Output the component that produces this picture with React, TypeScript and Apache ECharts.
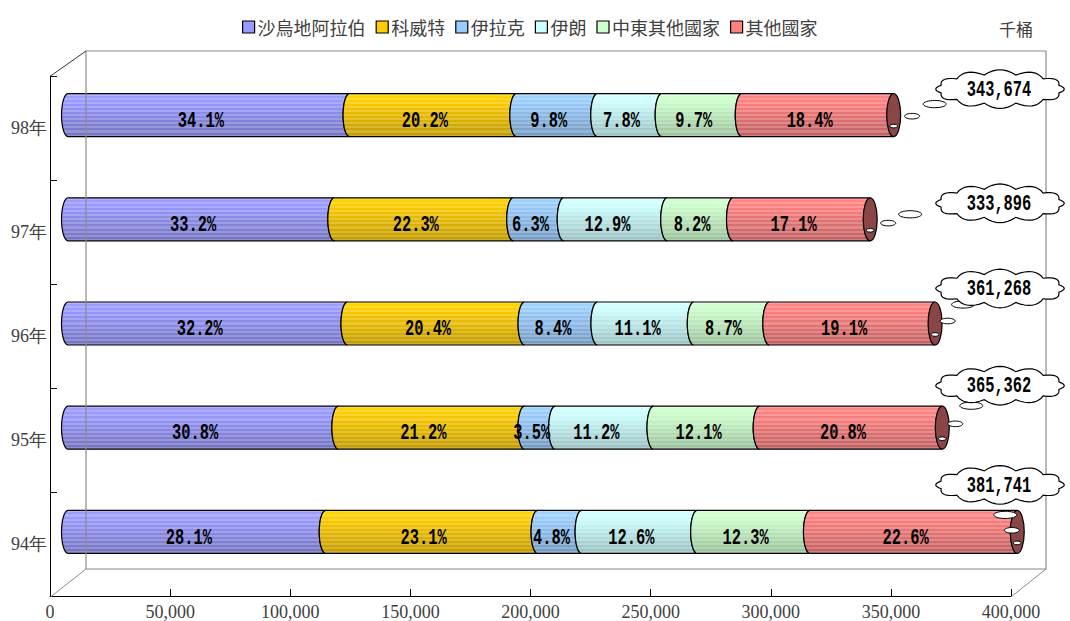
import React, { useEffect, useRef } from "react";
import * as echarts from "echarts";

// ---- data ----
const categories = ["94年", "95年", "96年", "97年", "98年"];
const seriesNames = ["沙烏地阿拉伯", "科威特", "伊拉克", "伊朗", "中東其他國家", "其他國家"];
const totals = [381741, 365362, 361268, 333896, 343674];
const pctSaudi = [28.1, 30.8, 32.2, 33.2, 34.1];
const pctKuwait = [23.1, 21.2, 20.4, 22.3, 20.2];
const pctIraq = [4.8, 3.5, 8.4, 6.3, 9.8];
const pctIran = [12.6, 11.2, 11.1, 12.9, 7.8];
const pctOtherME = [12.3, 12.1, 8.7, 8.2, 9.7];
const pctOther = [22.6, 20.8, 19.1, 17.1, 18.4];
const xMax = 400000;
const xInterval = 50000;

// ---- styling / layout (not data) ----
const colors = ["#9999FF", "#FFCC00", "#99CCFF", "#CCFFFF", "#CCFFCC", "#FF8080"];
const capColor = "#8A4646";
const cloudDy = [-47, -42, -35, -16, -26];
const bubbleDx = [-12, 29, 28, 40, 41];
const bubbleDy = [-17, -22, -19, -5, -11];
const valueFont = "'Liberation Mono', 'DejaVu Sans Mono', monospace";

const pctSets = [pctSaudi, pctKuwait, pctIraq, pctIran, pctOtherME, pctOther];

function hexToRgb(h: string) {
  const n = parseInt(h.slice(1), 16);
  return [(n >> 16) & 255, (n >> 8) & 255, n & 255];
}
function makeGrad(hex: string) {
  const [r, g, b] = hexToRgb(hex);
  const N = 21;
  const stops: any[] = [];
  for (let i = 0; i < N; i++) {
    const t = (i + 0.5) / N;
    const f = 1.05 - 0.3 * t;
    let c = [r * f, g * f, b * f];
    if (i % 2 === 0) c = c.map((v) => v + (255 - v) * 0.2);
    c = c.map((v) => Math.max(0, Math.min(255, Math.round(v))));
    const col = `rgb(${c[0]},${c[1]},${c[2]})`;
    stops.push({ offset: i / N, color: col });
    stops.push({ offset: (i + 1) / N, color: col });
  }
  return new echarts.graphic.LinearGradient(0, 0, 0, 1, stops);
}

function cloudPoints(cx: number, cy: number, rx: number, ry: number) {
  const nb = 12;
  const k = 1.7;
  const pts: number[][] = [];
  const off = Math.PI / nb;
  for (let i = 0; i < nb; i++) {
    const a0 = off + (2 * Math.PI * i) / nb;
    const a1 = off + (2 * Math.PI * (i + 1)) / nb;
    const am = (a0 + a1) / 2;
    const p0 = [cx + rx * Math.cos(a0), cy + ry * Math.sin(a0)];
    const p2 = [cx + rx * Math.cos(a1), cy + ry * Math.sin(a1)];
    const c = [cx + rx * 1.14 * Math.cos(am), cy + ry * k * Math.sin(am)];
    for (let s = 0; s < 8; s++) {
      const t = s / 8;
      const x = (1 - t) * (1 - t) * p0[0] + 2 * (1 - t) * t * c[0] + t * t * p2[0];
      const y = (1 - t) * (1 - t) * p0[1] + 2 * (1 - t) * t * c[1] + t * t * p2[1];
      pts.push([x, y]);
    }
  }
  return pts;
}

function valueText(x: number, y: number, text: string) {
  return {
    type: "text",
    x,
    y,
    scaleX: 0.7,
    z2: 20,
    style: {
      x: 0,
      y: 0,
      text,
      fill: "#000",
      fontSize: 22,
      fontWeight: "bold",
      fontFamily: valueFont,
      align: "center",
      verticalAlign: "middle",
    },
  };
}

export default function App() {
  const ref = useRef<HTMLDivElement>(null);
  useEffect(() => {
    document.body.style.margin = "0";
    const chart = echarts.init(ref.current!, null, { renderer: "svg" });
    const grads = colors.map(makeGrad);

    const segSeries = seriesNames.map((name, s) => {
      const data = categories.map((_, j) => {
        let start = 0;
        for (let q = 0; q < s; q++) start += (totals[j] * pctSets[q][j]) / 100;
        const end = start + (totals[j] * pctSets[s][j]) / 100;
        return [start, end, j, pctSets[s][j]];
      });
      return {
        type: "custom",
        name,
        xAxisIndex: 1,
        yAxisIndex: 1,
        itemStyle: { color: colors[s] },
        encode: { x: [0, 1], y: 2 },
        data,
        renderItem: (params: any, api: any) => {
          const j = api.value(2);
          const x0 = api.coord([api.value(0), j])[0];
          const p1 = api.coord([api.value(1), j]);
          const x1 = p1[0];
          const yc = p1[1];
          const ry = 21.5;
          const rx = 6.5;
          const pts: number[][] = [[x0, yc - ry], [x1, yc - ry]];
          for (let k = 0; k <= 16; k++) {
            const f = -Math.PI / 2 + (Math.PI * k) / 16;
            pts.push([x1 - rx * Math.cos(f), yc + ry * Math.sin(f)]);
          }
          for (let k = 0; k <= 16; k++) {
            const f = Math.PI / 2 - (Math.PI * k) / 16;
            pts.push([x0 - rx * Math.cos(f), yc + ry * Math.sin(f)]);
          }
          const children: any[] = [
            {
              type: "polygon",
              shape: { points: pts },
              style: { fill: grads[s], stroke: "#000", lineWidth: 1.2 },
              z2: s,
            },
          ];
          if (s === seriesNames.length - 1) {
            children.push({
              type: "ellipse",
              shape: { cx: x1, cy: yc, rx: 7, ry },
              style: { fill: capColor, stroke: "#000", lineWidth: 1.2 },
              z2: 10,
            });
          }
          children.push(valueText((x0 + x1) / 2 - 8, yc + 6, api.value(3).toFixed(1) + "%"));
          return { type: "group", children };
        },
      };
    });

    const cloudData = categories.map((_, j) => {
      let sum = 0;
      for (let q = 0; q < pctSets.length; q++) sum += pctSets[q][j];
      return [(totals[j] * sum) / 100, j, totals[j]];
    });

    const cloudSeries = {
      type: "custom",
      name: "總計",
      xAxisIndex: 1,
      yAxisIndex: 1,
      z: 10,
      encode: { x: 0, y: 1 },
      data: cloudData,
      renderItem: (params: any, api: any) => {
        const j = api.value(1);
        const pe = api.coord([api.value(0), j]);
        const xe = pe[0];
        const yc = pe[1];
        const cx = api.coord([xMax, j])[0] - 29;
        const cy = yc + cloudDy[j];
        const sx = xe;
        const sy = yc + 11;
        const ex = xe + bubbleDx[j];
        const ey = yc + bubbleDy[j];
        const mx = sx + (ex - sx) * 0.45;
        const my = sy + (ey - sy) * 0.45;
        return {
          type: "group",
          children: [
            { type: "ellipse", shape: { cx: sx, cy: sy, rx: 4, ry: 1.8 }, style: { fill: "#fff", stroke: "#000", lineWidth: 1 } },
            { type: "ellipse", shape: { cx: mx, cy: my, rx: 7.5, ry: 2.8 }, style: { fill: "#fff", stroke: "#000", lineWidth: 1 } },
            { type: "ellipse", shape: { cx: ex, cy: ey, rx: 11.5, ry: 3.6 }, style: { fill: "#fff", stroke: "#000", lineWidth: 1 } },
            {
              type: "polygon",
              shape: { points: cloudPoints(cx, cy, 61, 14.5) },
              style: { fill: "#fff", stroke: "#000", lineWidth: 1.2 },
            },
            valueText(cx - 1, cy + 1, api.value(2).toLocaleString("en-US")),
          ],
        };
      },
    };

    const serifLabel = { fontFamily: "'Liberation Serif', serif", fontSize: 18, color: "#404040" };

    chart.setOption({
      animation: false,
      legend: {
        data: seriesNames,
        top: 13,
        left: 237,
        itemWidth: 12,
        itemHeight: 12,
        itemGap: 10,
        icon: "rect",
        itemStyle: { borderColor: "#000", borderWidth: 1.2 },
        textStyle: { fontFamily: "'Noto Sans CJK TC', sans-serif", fontSize: 18, color: "#404040", padding: [0, 0, 0, -2] },
      },
      grid: [
        { left: 50, right: 59, top: 76, bottom: 24 },
        { left: 68, right: 41, top: 63, bottom: 37 },
      ],
      xAxis: [
        {
          type: "value",
          gridIndex: 0,
          min: 0,
          max: xMax,
          interval: xInterval,
          axisLine: { show: true, lineStyle: { color: "#000", width: 1 } },
          axisTick: { show: true, inside: true, length: 7, lineStyle: { color: "#000" } },
          splitLine: { show: false },
          axisLabel: { ...serifLabel, margin: 7, formatter: (v: number) => v.toLocaleString("en-US") },
        },
        { type: "value", gridIndex: 1, min: 0, max: xMax, show: false, splitLine: { show: false } },
      ],
      yAxis: [
        {
          type: "category",
          gridIndex: 0,
          data: categories,
          axisLine: { show: true, lineStyle: { color: "#000", width: 1 } },
          axisTick: { show: true, inside: true, length: 7, lineStyle: { color: "#000" } },
          axisLabel: { ...serifLabel, margin: 3 },
        },
        { type: "category", gridIndex: 1, data: categories, show: false },
      ],
      graphic: [
        { type: "rect", z: 5, silent: true, shape: { x: 86, y: 51, width: 960, height: 518 }, style: { fill: "none", stroke: "#8a8a8a", lineWidth: 1.2 } },
        { type: "line", z: 5, silent: true, shape: { x1: 50.5, y1: 76, x2: 86, y2: 51 }, style: { stroke: "#333", lineWidth: 1 } },
        { type: "line", z: 5, silent: true, shape: { x1: 50.5, y1: 597, x2: 86, y2: 569 }, style: { stroke: "#8a8a8a", lineWidth: 1 } },
        { type: "line", z: 5, silent: true, shape: { x1: 1011, y1: 597, x2: 1046, y2: 569 }, style: { stroke: "#8a8a8a", lineWidth: 1 } },
        {
          type: "text",
          left: 999,
          top: 20,
          style: { text: "千桶", fontSize: 17, fill: "#404040", fontFamily: "'Noto Sans CJK TC', sans-serif" },
        },
      ],
      series: [...segSeries, cloudSeries],
    } as any);
    return () => chart.dispose();
  }, []);
  return <div ref={ref} style={{ width: 1070, height: 621 }} />;
}
